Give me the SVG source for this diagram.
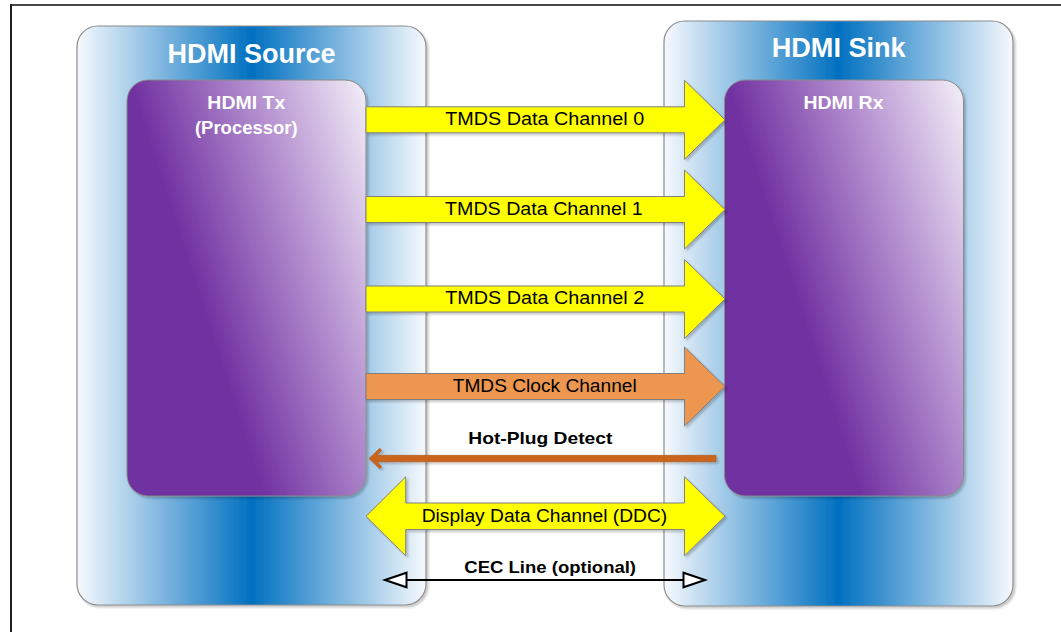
<svg xmlns="http://www.w3.org/2000/svg" width="1061" height="632" viewBox="0 0 1061 632">
  <defs>
    <linearGradient id="blueSrc" gradientUnits="userSpaceOnUse" x1="77" y1="0" x2="426" y2="0">
      <stop offset="0" stop-color="#f6f9fd"/>
      <stop offset="0.5" stop-color="#0070c0"/>
      <stop offset="1" stop-color="#f6f9fd"/>
    </linearGradient>
    <linearGradient id="blueSnk" gradientUnits="userSpaceOnUse" x1="664" y1="0" x2="1013" y2="0">
      <stop offset="0" stop-color="#f6f9fd"/>
      <stop offset="0.5" stop-color="#0070c0"/>
      <stop offset="1" stop-color="#f6f9fd"/>
    </linearGradient>
    <linearGradient id="purpTx" gradientUnits="userSpaceOnUse" x1="366" y1="80" x2="150" y2="150">
      <stop offset="0" stop-color="#f3eff7"/>
      <stop offset="0.45" stop-color="#b896d2"/>
      <stop offset="1" stop-color="#7030a0"/>
    </linearGradient>
    <linearGradient id="purpRx" gradientUnits="userSpaceOnUse" x1="963" y1="80" x2="747" y2="150">
      <stop offset="0" stop-color="#f3eff7"/>
      <stop offset="0.45" stop-color="#b896d2"/>
      <stop offset="1" stop-color="#7030a0"/>
    </linearGradient>
    <filter id="shadow" x="-10%" y="-10%" width="120%" height="120%">
      <feDropShadow dx="2" dy="2" stdDeviation="1" flood-color="#000" flood-opacity="0.22"/>
    </filter>
    <style>
      .outer { stroke: #8c8c8c; stroke-width: 1.2; filter: url(#shadow); }
      .inner { stroke: #8a8a8a; stroke-width: 1; filter: url(#shadow); }
      .title { font-family: "Liberation Sans", Arial, sans-serif; font-weight: bold; fill: #ffffff; text-anchor: middle; }
      .ylw { fill: #ffff00; stroke: #7f7f7f; stroke-width: 1; filter: url(#shadow); }
      .org { fill: #ec9650; stroke: #7f7f7f; stroke-width: 1; filter: url(#shadow); }
      .lbl { font-family: "Liberation Sans", Arial, sans-serif; font-size: 17.5px; fill: #000; text-anchor: middle; }
      .blbl { font-family: "Liberation Sans", Arial, sans-serif; font-size: 16.3px; font-weight: bold; fill: #000; text-anchor: middle; }
    </style>
  </defs>
  <rect width="1061" height="632" fill="#ffffff"/>
  <g id="frame">
    <line x1="10" y1="5" x2="1061" y2="5" stroke="#474747" stroke-width="2"/>
    <line x1="11" y1="4" x2="11" y2="632" stroke="#1e1e1e" stroke-width="2"/>
  </g>

  <g id="hdmi-source">
    <rect class="outer" x="77" y="26" width="349" height="579" rx="21" fill="url(#blueSrc)"/>
    <text class="title" x="251.5" y="62.5" font-size="27" textLength="168" lengthAdjust="spacingAndGlyphs">HDMI Source</text>
  </g>
  <g id="hdmi-sink">
    <rect class="outer" x="664" y="21" width="349" height="585" rx="21" fill="url(#blueSnk)"/>
    <text class="title" x="838.7" y="57.3" font-size="27.5" textLength="134" lengthAdjust="spacingAndGlyphs">HDMI Sink</text>
  </g>
  <g id="hdmi-tx">
    <rect class="inner" x="127" y="80" width="239" height="416" rx="21" fill="url(#purpTx)"/>
    <text class="title" x="246.3" y="109.3" font-size="17.5" textLength="78" lengthAdjust="spacingAndGlyphs">HDMI Tx</text>
    <text class="title" x="246.3" y="134" font-size="17.5" textLength="102.7" lengthAdjust="spacingAndGlyphs">(Processor)</text>
  </g>
  <g id="hdmi-rx">
    <rect class="inner" x="724.5" y="80" width="239" height="416" rx="21" fill="url(#purpRx)"/>
    <text class="title" x="843.5" y="108.7" font-size="17.5" textLength="80" lengthAdjust="spacingAndGlyphs">HDMI Rx</text>
  </g>

  <g id="connectors">
    <g id="tmds0">
      <polygon class="ylw" points="366,106.8 684.5,106.8 684.5,80.3 725,119.8 684.5,159.3 684.5,132.8 366,132.8"/>
      <text class="lbl" x="544.7" y="125" textLength="199" lengthAdjust="spacingAndGlyphs">TMDS Data Channel 0</text>
    </g>
    <g id="tmds1">
      <polygon class="ylw" points="366,196.5 684.5,196.5 684.5,170 725,209.5 684.5,249 684.5,222.5 366,222.5"/>
      <text class="lbl" x="543.9" y="215" textLength="197.7" lengthAdjust="spacingAndGlyphs">TMDS Data Channel 1</text>
    </g>
    <g id="tmds2">
      <polygon class="ylw" points="366,286 684.5,286 684.5,259.5 725,299 684.5,338.5 684.5,312 366,312"/>
      <text class="lbl" x="544.7" y="304" textLength="199" lengthAdjust="spacingAndGlyphs">TMDS Data Channel 2</text>
    </g>
    <g id="tmds-clock">
      <polygon class="org" points="366,373.5 684.5,373.5 684.5,347 725,386.5 684.5,426 684.5,399.5 366,399.5"/>
      <text class="lbl" x="544.7" y="392.3" textLength="184" lengthAdjust="spacingAndGlyphs">TMDS Clock Channel</text>
    </g>
    <g id="hot-plug">
      <path d="M716,455.3 L377,455.3 L381.5,450.3 L379.8,448.3 L369,458.5 L379.8,468.7 L381.5,466.7 L377,461.7 L716,461.7 Z" fill="#c9651c" stroke="#b5560f" stroke-width="0.6" filter="url(#shadow)"/>
      <text class="blbl" x="540.3" y="444" textLength="144" lengthAdjust="spacingAndGlyphs">Hot-Plug Detect</text>
    </g>
    <g id="ddc">
      <polygon class="ylw" points="366,516.3 405.7,476.8 405.7,503 684.5,503 684.5,476.8 725,516.3 684.5,555.8 684.5,529.6 405.7,529.6 405.7,555.8"/>
      <text class="lbl" x="544.5" y="521.7" textLength="245.6" lengthAdjust="spacingAndGlyphs">Display Data Channel (DDC)</text>
    </g>
    <g id="cec">
      <line x1="406" y1="580" x2="684" y2="580" stroke="#000" stroke-width="2"/>
      <polygon points="385,580 406.5,572.7 406.5,587.3" fill="#ffffff" stroke="#000" stroke-width="2" stroke-linejoin="miter"/>
      <polygon points="705,580 683.5,572.7 683.5,587.3" fill="#ffffff" stroke="#000" stroke-width="2" stroke-linejoin="miter"/>
      <text class="blbl" x="550.2" y="573.3" textLength="171.7" lengthAdjust="spacingAndGlyphs">CEC Line (optional)</text>
    </g>
  </g>
</svg>
